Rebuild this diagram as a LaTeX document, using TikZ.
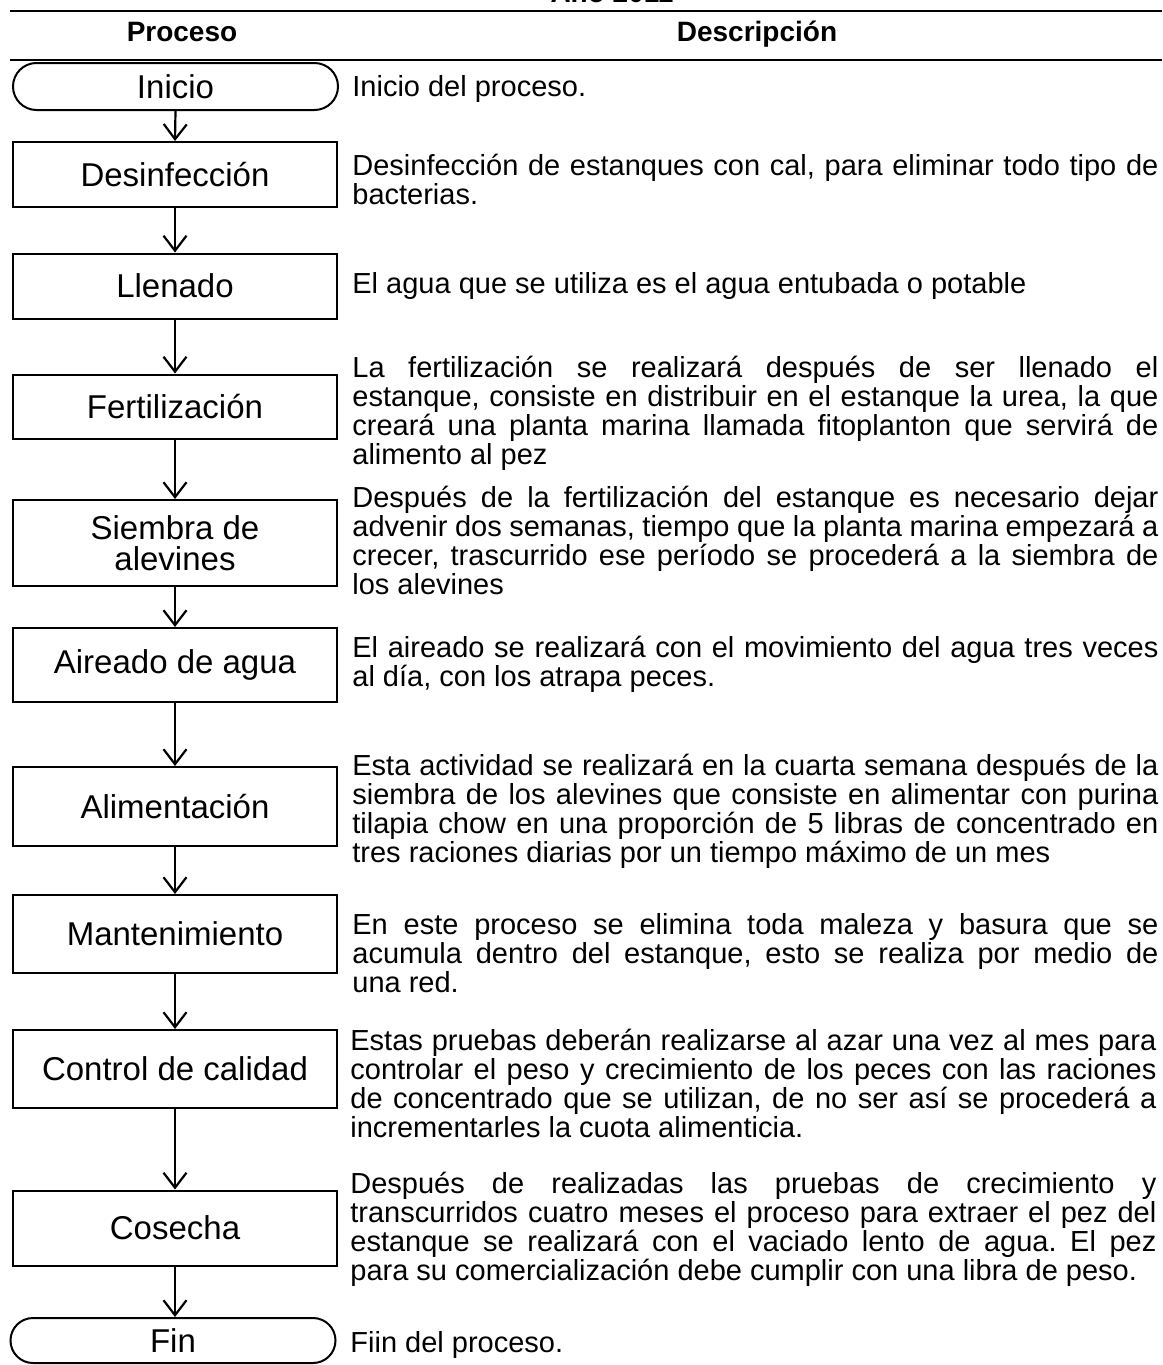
\documentclass[tikz,border=0pt]{standalone}
\usepackage{fontspec}
\setmainfont{Liberation Sans}
\usetikzlibrary{shapes.misc,arrows.meta}
\newcommand\apretado{\lineskiplimit=-20pt\relax\frenchspacing}

\begin{document}
\begin{tikzpicture}[x=0.5pt, y=-0.5pt,
  paso/.style = {shape=rectangle, draw, line width=1pt, align=center, minimum width=162pt, inner sep=0pt, font=\fontsize{16.5}{15.5}\selectfont\apretado},
  term/.style = {shape=rounded rectangle, draw, line width=1pt, minimum width=162.5pt, inner sep=0pt, font=\fontsize{16.5}{15.5}\selectfont},
  desc/.style = {anchor=north west, text width=403pt, align=justify, inner sep=0pt, font=\fontsize{14.5}{14.5}\selectfont\apretado},
  cab/.style = {anchor=base, font=\fontsize{14}{14}\selectfont\bfseries},
  flecha/.style = {-{Straight Barb[length=7.5pt,width=11.5pt]}, line width=1.1pt}]
  \clip (0,0) rectangle (1162,1365);
  % titulo y encabezado
  \node[cab] (titulo) at (612,3) {Año 2011};
  \draw[line width=1pt] (10,11) -- (1162,11);
  \node[cab] (hProceso) at (182,41) {Proceso};
  \node[cab] (hDescripcion) at (757,41) {Descripción};
  \draw[line width=1pt] (10,60) -- (1162,60);
  % columna de proceso
  \node[term, minimum height=23.5pt] (inicio) at (175.5,86.5) {Inicio};
  \node[paso, minimum height=32.5pt] (desinf) at (175,174.5) {Desinfección};
  \node[paso, minimum height=32.5pt] (llenado) at (175,286) {Llenado};
  \node[paso, minimum height=32pt] (fert) at (175,406.5) {Fertilización};
  \node[paso, minimum height=43pt] (siembra) at (175,543) {Siembra de\\alevines};
  \node[paso, minimum height=37pt] (aireado) at (175,665) {Aireado de agua};
  \node[paso, minimum height=39.5pt] (aliment) at (175,806.5) {Alimentación};
  \node[paso, minimum height=39pt] (manten) at (175,934) {Mantenimiento};
  \node[paso, minimum height=39pt] (control) at (175,1069) {Control de calidad};
  \node[paso, minimum height=37.5pt] (cosecha) at (175,1228) {Cosecha};
  \node[term, minimum height=22.5pt] (fin) at (173,1340.5) {Fin};
  \foreach \a/\b in {inicio/desinf, desinf/llenado, llenado/fert, fert/siembra, siembra/aireado,
    aireado/aliment, aliment/manten, manten/control, control/cosecha}
    \draw[flecha] (\a.south) -- (\b.north);
  \draw[flecha] (cosecha.south) -- (cosecha.south |- fin.north);
  % columna de descripcion
  \node[desc] (dInicio) at (352,75) {\strut Inicio del proceso.};
  \node[desc] (dDesinf) at (352,154) {\strut Desinfección de estanques con cal, para eliminar todo tipo de\linebreak bacterias.};
  \node[desc] (dLlenado) at (352,272) {\strut El agua que se utiliza es el agua entubada o potable};
  \node[desc] (dFert) at (352,356) {\strut La fertilización se realizará después de ser llenado el\linebreak
    estanque, consiste en distribuir en el estanque la urea, la que\linebreak
    creará una planta marina llamada fitoplanton que servirá de\linebreak alimento al pez};
  \node[desc] (dSiembra) at (352,486) {\strut Después de la fertilización del estanque es necesario dejar\linebreak
    advenir dos semanas, tiempo que la planta marina empezará a\linebreak
    crecer, trascurrido ese período se procederá a la siembra de\linebreak los alevines};
  \node[desc] (dAireado) at (352,636) {\strut El aireado se realizará con el movimiento del agua tres veces\linebreak
    al día, con los atrapa peces.};
  \node[desc] (dAliment) at (352,754) {\strut Esta actividad se realizará en la cuarta semana después de la\linebreak
    siembra de los alevines que consiste en alimentar con purina\linebreak
    tilapia chow en una proporción de 5 libras de concentrado en\linebreak
    tres raciones diarias por un tiempo máximo de un mes};
  \node[desc] (dManten) at (352,913) {\strut En este proceso se elimina toda maleza y basura que se\linebreak
    acumula dentro del estanque, esto se realiza por medio de\linebreak una red.};
  \node[desc] (dControl) at (350,1029) {\strut Estas pruebas deberán realizarse al azar una vez al mes para\linebreak
    controlar el peso y crecimiento de los peces con las raciones\linebreak
    de concentrado que se utilizan, de no ser así se procederá a\linebreak
    incrementarles la cuota alimenticia.};
  \node[desc] (dCosecha) at (350,1172) {\strut Después de realizadas las pruebas de crecimiento y\linebreak
    transcurridos cuatro meses el proceso para extraer el pez del\linebreak
    estanque se realizará con el vaciado lento de agua. El pez\linebreak
    para su comercialización debe cumplir con una libra de peso.};
  \node[desc] (dFin) at (350,1331) {\strut Fiin del proceso.};
\end{tikzpicture}
\end{document}
